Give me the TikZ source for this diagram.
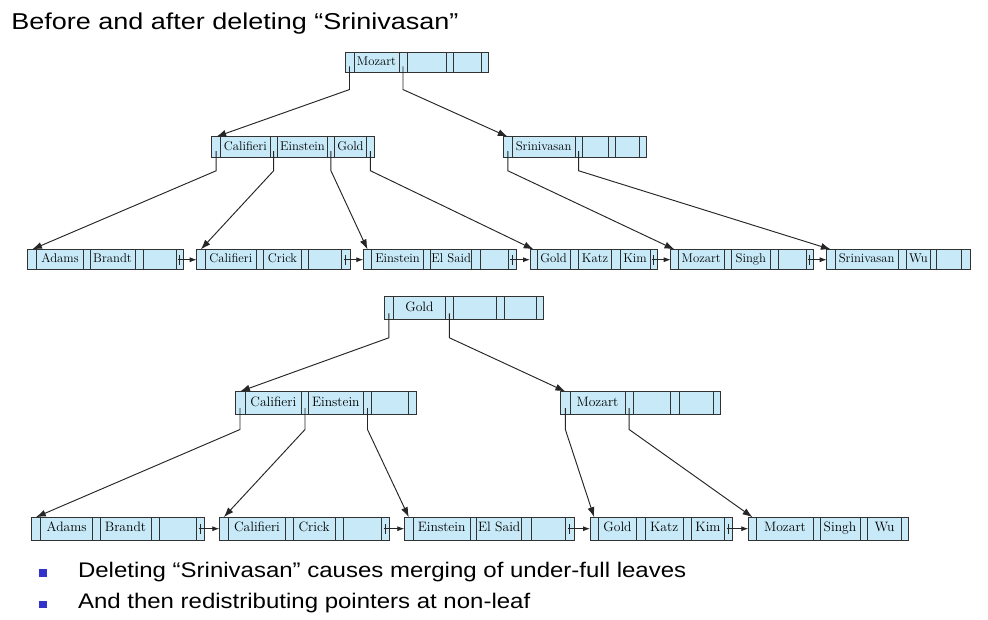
\documentclass[tikz,border=0pt]{standalone}
\usepackage{fontspec}
\setsansfont{Liberation Sans}
\usepackage{graphicx}
\usetikzlibrary{arrows.meta}
\definecolor{cellblue}{RGB}{200,234,248}
\definecolor{bulletblue}{RGB}{51,51,204}
\definecolor{cellline}{RGB}{50,50,50}
\tikzset{
  cell/.style={draw=cellline, fill=cellblue, line width=1pt, inner sep=0pt, outer sep=0pt, anchor=west},
  toptree/.style={minimum height=20.5pt, text height=8.5pt, text depth=2.5pt, font=\fontsize{12.7}{14}\selectfont},
  bottree/.style={minimum height=23pt, text height=9.2pt, text depth=2.7pt, font=\fontsize{13.6}{15}\selectfont},
  ptr/.style={draw=black!85, line width=0.95pt, -{Latex[length=10pt,width=7pt]}},
  nextptr/.style={draw=black!85, line width=0.8pt, -{Latex[length=7pt,width=5pt]}},
  tick/.style={draw=black!85, line width=0.8pt},
  bulletsq/.style={fill=bulletblue, minimum size=7.7pt, inner sep=0pt, outer sep=0pt},
  slidetext/.style={anchor=base west, inner sep=0pt, outer sep=0pt},
}
\newcommand\bpnode[5][]{%
  \coordinate (#2-0) at (#3,#4);
  \foreach \w/\t [count=\i] in {#5} {%
    \ifnum\i=1 \def\pos{#2-0}\else\pgfmathtruncatemacro\prv{\i-1}\edef\pos{#2-\prv.east}\fi
    \node[cell,#1,minimum width=\w pt] (#2-\i) at (\pos) {\t};
  }%
}
\begin{document}
\begin{tikzpicture}[x=1pt,y=-1pt]
\useasboundingbox (0,0) rectangle (988,619);

% title
\node[slidetext] (title) at (11.3,29.3) {\scalebox{1}[0.85]{\sffamily\fontsize{27}{31}\selectfont Before and after deleting “Srinivasan”}};

% ---------- top tree (before) ----------
\bpnode[toptree]{T}{345}{62.3}{9/{},45/Mozart,8/{},39/{},7/{},28/{},7/{}}
\bpnode[toptree]{A}{211.7}{147}{9/{},49.3/Califieri,7.3/{},50.3/Einstein,6.7/{},32.3/Gold,7.7/{}}
\bpnode[toptree]{B}{503.3}{147}{9/{},62.7/Srinivasan,7.3/{},26/{},6.7/{},24.3/{},7.3/{}}
\bpnode[toptree]{La}{27.3}{259.7}{9.4/{},46.6/Adams,6.7/{},45/Brandt,8.3/{},32.7/{},7.3/{}}
\bpnode[toptree]{Lb}{196.7}{259.7}{8.3/{},51.7/Califieri,6.6/{},38.4/Crick,6.6/{},33.4/{},8.3/{}}
\bpnode[toptree]{Lc}{363.3}{259.7}{8.4/{},51.6/Einstein,7.4/{},41/{El Said},8.3/{},28.3/{},7.7/{}}
\bpnode[toptree]{Ld}{530}{259.7}{7.3/{},32.7/Gold,8.3/{},33.4/Katz,8.3/{},30/Kim,7.3/{}}
\bpnode[toptree]{Le}{670.7}{259.7}{7.6/{},45.7/Mozart,7.7/{},38.3/Singh,8.3/{},27.7/{},7.3/{}}
\bpnode[toptree]{Lf}{826.7}{259.7}{8.3/{},63.3/Srinivasan,8.4/{},23.3/Wu,6.7/{},25/{},8.3/{}}

\draw[ptr] ([yshift=-4pt]T-1.center) -- ([yshift=-17pt]T-1.south) -- (A-1.north);
\draw[ptr] ([yshift=-4pt]T-3.center) -- ([yshift=-17pt]T-3.south) -- (B-1.north);
\draw[ptr] ([yshift=-4pt]A-1.center) -- ([yshift=-13.5pt]A-1.south) -- (La-1.north);
\draw[ptr] ([yshift=-4pt]A-3.center) -- ([yshift=-13.5pt]A-3.south) -- (Lb-1.north);
\draw[ptr] ([yshift=-4pt]A-5.center) -- ([yshift=-13.5pt]A-5.south) -- (Lc-1.north);
\draw[ptr] ([yshift=-4pt]A-7.center) -- ([yshift=-13.5pt]A-7.south) -- (Ld-1.north);
\draw[ptr] ([yshift=-4pt]B-1.center) -- ([yshift=-13.5pt]B-1.south) -- (Le-1.north);
\draw[ptr] ([yshift=-4pt]B-3.center) -- ([yshift=-13.5pt]B-3.south) -- (Lf-1.north);

\foreach \a/\b in {La/Lb,Lb/Lc,Lc/Ld,Ld/Le,Le/Lf}{
  \draw[tick] ([yshift=5pt]\a-7.center) -- ([yshift=-5pt]\a-7.center);
  \draw[nextptr] ([xshift=-2pt]\a-7.center) -- (\b-1.west);
}

% ---------- bottom tree (after) ----------
\bpnode[bottree]{G}{384.3}{308.3}{9/{},52.3/Gold,7.7/{},43.3/{},8.3/{},31.7/{},7.3/{}}
\bpnode[bottree]{C}{235}{403}{10/{},56.7/Califieri,6.6/{},55/Einstein,8.4/{},36.6/{},8.4/{}}
\bpnode[bottree]{M}{560.7}{403}{9.3/{},55/Mozart,8.3/{},36.7/{},9.3/{},34/{},7.4/{}}
\bpnode[bottree]{Ma}{31}{528.7}{9.7/{},52/Adams,7.3/{},51/Brandt,8.3/{},37.4/{},7.6/{}}
\bpnode[bottree]{Mb}{219.3}{528.7}{9/{},57.4/Califieri,7.6/{},41.7/Crick,8.3/{},38.4/{},7.6/{}}
\bpnode[bottree]{Mc}{404.3}{528.7}{9/{},56.7/Einstein,6.7/{},45/{El Said},10/{},33.3/{},9/{}}
\bpnode[bottree]{Md}{590}{528.7}{8.3/{},38.4/Gold,8.3/{},38.3/Katz,8.4/{},32.6/Kim,8.4/{}}
\bpnode[bottree]{Me}{748.3}{528.7}{8.4/{},56.6/Mozart,6.7/{},40/Singh,7.3/{},34.4/Wu,6.6/{}}

\draw[ptr] ([yshift=-5pt]G-1.center) -- ([yshift=-18pt]G-1.south) -- (C-1.north);
\draw[ptr] ([yshift=-5pt]G-3.center) -- ([yshift=-18pt]G-3.south) -- (M-1.north);
\draw[ptr] ([yshift=-5pt]C-1.center) -- ([yshift=-15pt]C-1.south) -- (Ma-1.north);
\draw[ptr] ([yshift=-5pt]C-3.center) -- ([yshift=-15pt]C-3.south) -- (Mb-1.north);
\draw[ptr] ([yshift=-5pt]C-5.center) -- ([yshift=-15pt]C-5.south) -- (Mc-1.north);
\draw[ptr] ([yshift=-5pt]M-1.center) -- ([yshift=-15pt]M-1.south) -- (Md-1.north);
\draw[ptr] ([yshift=-5pt]M-3.center) -- ([yshift=-15pt]M-3.south) -- (Me-1.north);

\foreach \a/\b in {Ma/Mb,Mb/Mc,Mc/Md,Md/Me}{
  \draw[tick] ([yshift=5pt]\a-7.center) -- ([yshift=-5pt]\a-7.center);
  \draw[nextptr] ([xshift=-2pt]\a-7.center) -- (\b-1.west);
}

% ---------- bullets ----------
\node[bulletsq] (b1) at (42.85,572.85) {};
\node[bulletsq] (b2) at (42.85,604.5) {};
\node[slidetext] (t1) at (78,577.7) {\scalebox{1}[0.88]{\sffamily\fontsize{24}{28}\selectfont Deleting “Srinivasan” causes merging of under-full leaves}};
\node[slidetext] (t2) at (78,608.3) {\scalebox{1}[0.88]{\sffamily\fontsize{24}{28}\selectfont And then redistributing pointers at non-leaf}};
\end{tikzpicture}
\end{document}
